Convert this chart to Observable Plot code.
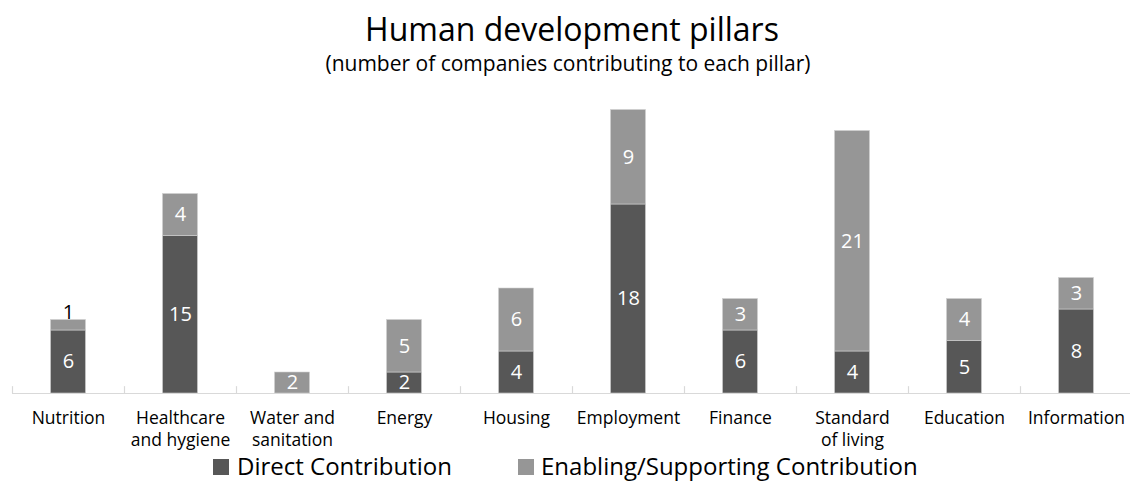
<!DOCTYPE html>
<html><head><meta charset="utf-8">
<script src="https://cdn.jsdelivr.net/npm/d3@7"></script>
<script src="https://cdn.jsdelivr.net/npm/@observablehq/plot@0.6"></script>
<style>
body{margin:0;background:#fff;font-family:"Open Sans",sans-serif;color:#000;}
#wrap{position:relative;width:1130px;height:482px;overflow:hidden;}
#title{position:absolute;left:12px;width:1120px;top:13px;text-align:center;font-size:32px;line-height:32px;white-space:nowrap;}
#subtitle{position:absolute;left:0;width:1136px;top:53px;text-align:center;font-size:21px;line-height:21px;white-space:nowrap;}
#chart{position:absolute;left:0;top:78px;}
.leg{position:absolute;top:453.5px;font-size:24px;line-height:24px;white-space:nowrap;}
.sw{position:absolute;width:16px;height:16px;top:459px;}
</style>
</head><body>
<div id="wrap">
  <div id="title">Human development pillars</div>
  <div id="subtitle">(number of companies contributing to each pillar)</div>
  <div id="chart"></div>
  <div class="sw" id="sw0"></div><div class="leg" id="lg0"></div>
  <div class="sw" id="sw1"></div><div class="leg" id="lg1"></div>
</div>
<script>
const categories = ["Nutrition","Healthcare and hygiene","Water and sanitation","Energy","Housing","Employment","Finance","Standard of living","Education","Information"];
const tickLabels = ["Nutrition","Healthcare\nand hygiene","Water and\nsanitation","Energy","Housing","Employment","Finance","Standard\nof living","Education","Information"];
const seriesNames = ["Direct Contribution","Enabling/Supporting Contribution"];
const directValues = [6,15,0,2,4,18,6,4,5,8];
const enablingValues = [1,4,2,5,6,9,3,21,4,3];
const colors = ["#575757","#969696"];

const rows = [];
categories.forEach((c,i)=>{
  rows.push({cat:c, series:seriesNames[0], v:directValues[i]});
  rows.push({cat:c, series:seriesNames[1], v:enablingValues[i]});
});
const totals = categories.map((c,i)=>({cat:c, total:directValues[i]+enablingValues[i], v:enablingValues[i]}));

const W = 1130, H = 404;
const plot = Plot.plot({
  width: W, height: H,
  marginLeft: 12, marginRight: -2, marginTop: 0, marginBottom: 89,
  style:{fontFamily:'"Open Sans",sans-serif', background:"transparent", overflow:"visible"},
  x:{domain:categories, padding:0, axis:null},
  y:{domain:[0,30], axis:null},
  color:{domain:seriesNames, range:colors},
  marks:[
    Plot.barY(rows, Plot.stackY({x:"cat", y:"v", fill:"series", order:seriesNames, insetLeft:38.5, insetRight:38.5, stroke:"#d0d0d0", strokeWidth:0.6})),
    Plot.text(rows, Plot.stackY({filter:d=>d.v>=2, x:"cat", y:"v", z:"series", order:seriesNames, text:d=>String(d.v), fill:"#ffffff", fontSize:20})),
    Plot.text(totals, {filter:d=>d.v===1, x:"cat", y:"total", text:d=>String(d.v), fill:"#000", fontSize:20, dy:-7}),
    Plot.ruleY([0], {stroke:"#d9d9d9", strokeWidth:1.2}),
    Plot.ruleX(categories, {x:d=>d, dx:-56, y1:0, y2:0.65, stroke:"#d9d9d9", strokeWidth:1.2}),
    Plot.ruleX([categories[categories.length-1]], {x:d=>d, dx:56, y1:0, y2:0.65, stroke:"#d9d9d9", strokeWidth:1.2}),
    Plot.text(categories, {x:d=>d, text:(d,i)=>tickLabels[i], frameAnchor:"bottom", lineAnchor:"top", dy:14.5, lineHeight:1.26, fontSize:17.5, fill:"#000"})
  ]
});
document.getElementById("chart").appendChild(plot);

const sw = [["sw0","lg0",213,237],["sw1","lg1",518,541]];
sw.forEach(([s,l,sx,lx],i)=>{
  const se = document.getElementById(s); se.style.left = sx+"px"; se.style.background = colors[i];
  const le = document.getElementById(l); le.style.left = lx+"px"; le.textContent = seriesNames[i];
});
</script>
</body></html>
